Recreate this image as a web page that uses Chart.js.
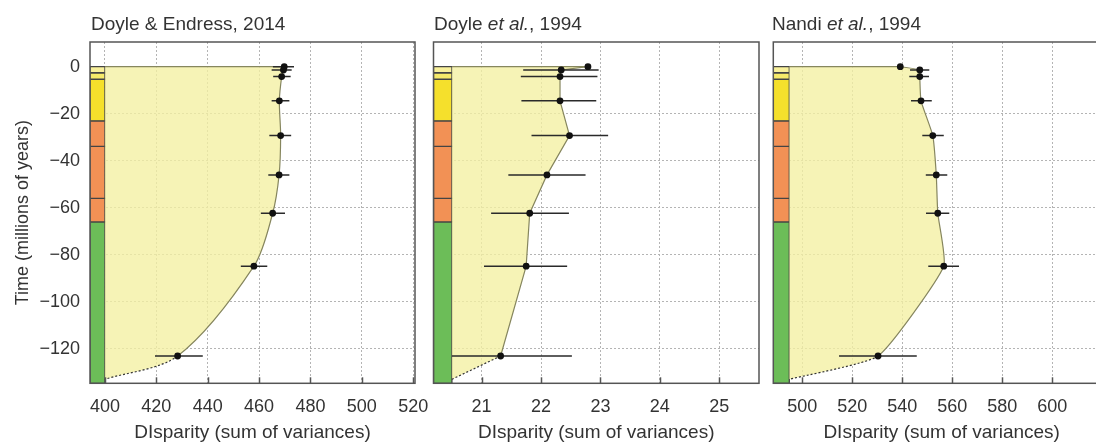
<!DOCTYPE html>
<html><head><meta charset="utf-8">
<script src="https://cdn.jsdelivr.net/npm/chart.js@4.4.1/dist/chart.umd.min.js"></script>
<style>
html,body{margin:0;padding:0;background:#fff;}
#wrap{position:relative;width:1096px;height:445px;overflow:hidden;background:#fff;}
canvas{position:absolute;left:0;top:0;}
.ttl{position:absolute;top:14px;font:19px/19px "Liberation Sans",Arial,sans-serif;color:#333;white-space:nowrap;}
</style></head><body>
<div id="wrap">
<canvas id="c0" width="1120" height="445"></canvas>
<canvas id="c1" width="1120" height="445"></canvas>
<canvas id="c2" width="1120" height="445"></canvas>
<div class="ttl" style="left:91px">Doyle &amp; Endress, 2014</div>
<div class="ttl" style="left:434px">Doyle <i>et al.</i>, 1994</div>
<div class="ttl" style="left:772px">Nandi <i>et al.</i>, 1994</div>
</div>
<script>
// ---- data ----
const ages = [0, -1.4, -4.2, -14.5, -29.3, -46, -62.3, -84.8, -123];
const originAge = -132.9;

const endressDisparity = [469.8, 469.5, 468.8, 467.9, 468.4, 467.8, 465.3, 458.0, 428.3];
const endressLow       = [465.4, 464.9, 465.5, 464.9, 464.0, 463.6, 460.7, 452.9, 419.5];
const endressHigh      = [473.6, 472.7, 472.3, 471.8, 472.5, 471.8, 470.1, 463.2, 438.1];

const doyleDisparity = [22.79, 22.34, 22.32, 22.32, 22.48, 22.10, 21.81, 21.75, 21.32];
const doyleLow       = [null, 21.70, 21.66, 21.67, 21.84, 21.45, 21.16, 21.04, 20.50];
const doyleHigh      = [null, 22.97, 22.95, 22.93, 23.13, 22.75, 22.47, 22.44, 22.52];

const nandiDisparity = [539.2, 547.0, 547.0, 547.5, 552.2, 553.6, 554.2, 556.6, 530.3];
const nandiLow       = [null, 543.1, 542.8, 543.5, 548.0, 549.4, 549.5, 550.4, 514.7];
const nandiHigh      = [null, 550.8, 550.7, 551.8, 556.6, 558.0, 558.8, 562.7, 545.8];

const endressTicks = [400, 420, 440, 460, 480, 500, 520];
const doyleTicks = [21, 22, 23, 24, 25];
const nandiTicks = [500, 520, 540, 560, 580, 600];
const timeTicks = [0, -20, -40, -60, -80, -100, -120];

// geological time bands (tops, Ma)
const bandTops = [0, -2.58, -5.33, -23.03, -33.9, -56, -66];
const bandColors = ['#f8f09a', '#f6ea6a', '#f5e02c', '#f29155', '#f29155', '#f29155', '#6cbd58'];

// ---- styles ----
const Y_MIN = -134.6, Y_MAX = 10.5;
const FONT = '"Liberation Sans", Arial, sans-serif';
const TXT = '#333';
const FILL = 'rgba(243,240,162,0.78)';
const LINE = '#86865e';

const framePlugin = {
  id: 'frame',
  afterDraw(chart) {
    const {ctx, chartArea: a} = chart;
    ctx.save();
    ctx.strokeStyle = '#555';
    ctx.lineWidth = 1.5;
    const xs = chart.scales.x;
    xs.ticks.forEach(t => {
      const p = Math.round(xs.getPixelForValue(t.value)) + 0.5;
      ctx.beginPath(); ctx.moveTo(p, a.bottom); ctx.lineTo(p, a.bottom - 6); ctx.stroke();
    });
    ctx.strokeRect(a.left, a.top, a.right - a.left, a.bottom - a.top);
    ctx.restore();
  }
};

function makePanel(id, o) {
  const curve = ages.map((a, i) => ({x: o.xs[i], y: a})).concat([{x: o.xBase, y: originAge}]);
  const last = curve.length - 1;
  const err = [];
  ages.forEach((a, i) => {
    if (o.lo[i] != null) err.push({x: o.lo[i], y: a}, {x: o.hi[i], y: a}, {x: null, y: null});
  });
  const datasets = [];
  datasets.push({
    type: 'line', data: ages.map((a, i) => ({x: o.xs[i], y: a})),
    showLine: false, pointRadius: 3.4, pointBackgroundColor: '#111', pointBorderColor: '#111',
    pointBorderWidth: 0, order: 0
  });
  datasets.push({
    type: 'line', data: err, spanGaps: false, borderColor: '#2a2a2a', borderWidth: 1.5,
    pointRadius: 0, tension: 0, order: 1
  });
  datasets.push({
    type: 'line', data: [{x: o.xBase, y: 0}, {x: o.xs[0], y: 0}], borderColor: LINE,
    borderWidth: 1.2, pointRadius: 0, order: 2
  });
  datasets.push({
    type: 'line', indexAxis: 'y', data: curve, borderColor: LINE, borderWidth: 1.2,
    pointRadius: 0, backgroundColor: FILL, fill: {value: o.xBase},
    tension: o.tension,
    segment: {
      borderDash: c => c.p1DataIndex === last ? [2, 2] : undefined,
      borderColor: c => c.p1DataIndex === last ? '#333' : undefined
    },
    order: 3
  });
  bandTops.forEach((top, i) => {
    const bot = i + 1 < bandTops.length ? bandTops[i + 1] : Y_MIN;
    datasets.push({
      type: 'line',
      data: [{x: o.xMin, y: top}, {x: o.xBase, y: top}, {x: o.xBase, y: bot}, {x: o.xMin, y: bot}, {x: o.xMin, y: top}],
      borderColor: '#444', borderWidth: 1.3, backgroundColor: bandColors[i], fill: 'shape',
      pointRadius: 0, tension: 0, order: 4
    });
  });

  const W = 1120;
  return new Chart(document.getElementById(id), {
    type: 'line',
    data: {datasets},
    plugins: [framePlugin],
    options: {
      responsive: false, animation: false, devicePixelRatio: 1,
      layout: {padding: {left: 0, top: 42, right: W - o.right, bottom: 0}},
      plugins: {legend: {display: false}, tooltip: {enabled: false}},
      elements: {line: {borderCapStyle: 'butt'}},
      scales: {
        x: {
          type: 'linear', position: 'bottom', min: o.xMin, max: o.xMax,
          afterBuildTicks: s => { s.ticks = o.ticks.map(v => ({value: v})); },
          afterFit: s => { s.height = 445 - 383.3; },
          grid: {color: '#b4b4b4', lineWidth: 1, drawTicks: false},
          border: {display: false, dash: [2, 2]},
          ticks: {padding: 13, color: TXT, font: {family: FONT, size: 18}, maxRotation: 0, autoSkip: false,
                  callback: v => String(v)},
          title: {display: true, text: 'DIsparity (sum of variances)', color: TXT,
                  font: {family: FONT, size: 19}, padding: {top: 0, bottom: 1}}
        },
        y: {
          type: 'linear', position: 'left', min: Y_MIN, max: Y_MAX,
          afterBuildTicks: s => { s.ticks = timeTicks.map(v => ({value: v})); },
          afterFit: s => { s.width = o.left; },
          grid: {color: c => (c.tick && c.tick.value === 0) ? 'rgba(0,0,0,0)' : '#b4b4b4', lineWidth: 1, drawTicks: false},
          border: {display: false, dash: [2, 2]},
          ticks: {display: o.showY, padding: 10, color: TXT, font: {family: FONT, size: 18},
                  callback: v => v < 0 ? '\u2212' + Math.abs(v) : String(v)},
          title: {display: o.showY, text: 'Time (millions of years)', color: TXT,
                  font: {family: FONT, size: 18}, padding: {top: 12, bottom: 0}}
        }
      }
    }
  });
}

makePanel('c0', {xs: endressDisparity, lo: endressLow, hi: endressHigh, xBase: 400,
  xMin: 394.2, xMax: 520.7, ticks: endressTicks, left: 90, right: 415, showY: true, tension: 0.3});
makePanel('c1', {xs: doyleDisparity, lo: doyleLow, hi: doyleHigh, xBase: 20.5,
  xMin: 20.19, xMax: 25.67, ticks: doyleTicks, left: 433.5, right: 759, showY: false, tension: 0});
makePanel('c2', {xs: nandiDisparity, lo: nandiLow, hi: nandiHigh, xBase: 494.8,
  xMin: 488.4, xMax: 623.1, ticks: nandiTicks, left: 773.3, right: 1110, showY: false, tension: 0.15});
</script>
</body></html>
